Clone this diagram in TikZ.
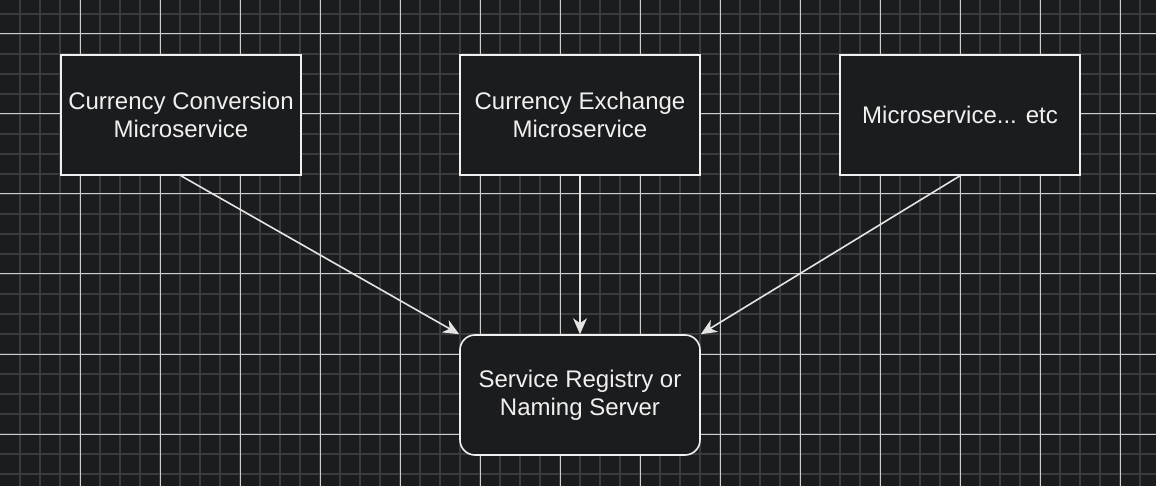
\documentclass[tikz,border=0pt]{standalone}
\usepackage{fontspec}
\setmainfont{Liberation Sans}
\usepackage{xcolor}
\usepackage{tikz}
\usetikzlibrary{arrows.meta, positioning}

\definecolor{canvas}{HTML}{1B1C1E}
\definecolor{gridminor}{HTML}{3A3B3D}
\definecolor{gridmajor}{HTML}{CFCFCF}
\definecolor{inkwhite}{HTML}{F0F0F0}

\tikzset{
    service/.style={draw=inkwhite, line width=1.6pt, fill=canvas, text=inkwhite,
        minimum width=240pt, minimum height=120pt, inner sep=0pt, align=center,
        font=\fontsize{24}{28}\selectfont},
    registry/.style={service, rounded corners=15pt},
    call/.style={draw=inkwhite!95!black, line width=1.6pt,
        -{Stealth[length=16pt, width=14pt, inset=5pt]}}
}

\begin{document}
\begin{tikzpicture}[x=1pt, y=-1pt]
    % Background and grid
    \useasboundingbox[fill=canvas] (0,0) rectangle (1156,486);
    \foreach \x in {20,40,...,1150} \draw[gridminor, line width=1.5pt] (\x,0) -- (\x,486);
    \foreach \y in {14,34,...,486} \draw[gridminor, line width=1.5pt] (0,\y) -- (1156,\y);
    \foreach \x in {80,160,...,1150} \draw[gridmajor, line width=1pt] (\x,0) -- (\x,486);
    \foreach \y in {34,114,...,486} \draw[gridmajor, line width=1pt] (0,\y) -- (1156,\y);

    % Services
    \node[service] (conv) at (181,115) {Currency Conversion\\Microservice};
    \node[service] (exch) at (580,115) {Currency Exchange\\Microservice};
    \node[service] (other) at (960,115) {Microservice... etc};

    % Naming server
    \node[registry] (naming) at (580,395) {Service Registry or\\Naming Server};

    \draw[call] (conv.south) -- (naming.north west);
    \draw[call] (exch.south) -- (naming.north);
    \draw[call] (other.south) -- (naming.north east);
\end{tikzpicture}
\end{document}
